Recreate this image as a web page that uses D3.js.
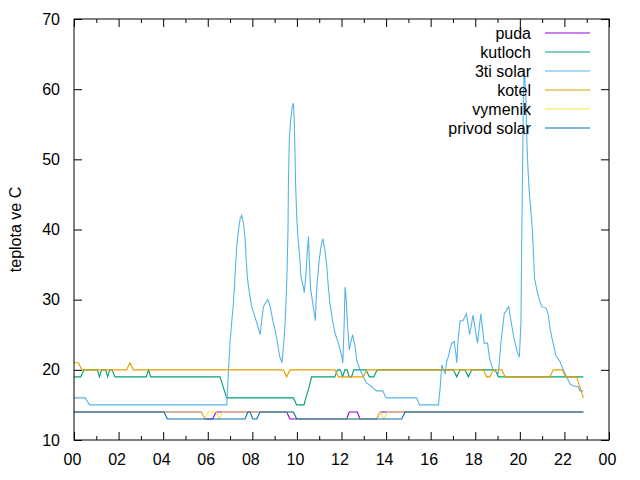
<!DOCTYPE html>
<html>
<head>
<meta charset="UTF-8">
<title>teplota</title>
<script src="https://d3js.org/d3.v7.min.js"></script>
<style>
body { margin: 0; background: #fff; }
svg { font-family: "Liberation Sans", Arial, sans-serif; font-size: 16px; }
</style>
</head>
<body>
<svg width="640" height="480"></svg>
<script>
// tick labels
var hourTicks = [0, 2, 4, 6, 8, 10, 12, 14, 16, 18, 20, 22, 24];
var hourLabels = ["00", "02", "04", "06", "08", "10", "12", "14", "16", "18", "20", "22", "00"];
var tempTicks = [10, 20, 30, 40, 50, 60, 70];

var seriesNames = ["puda", "kutloch", "3ti solar", "kotel", "vymenik", "privod solar"];

// puda
var pudaHours = [0, 5.72, 5.87, 6.22, 6.37, 9.54, 9.69, 12.23, 12.35, 12.71, 12.83, 13.58, 13.73, 22.85];
var pudaTemps = [14, 14, 13, 13, 14, 14, 13, 13, 14, 14, 13, 13, 14, 14];

// kutloch
var kutlochHours = [0, 0.3, 0.45, 1.05, 1.14, 1.24, 1.42, 1.51, 1.6, 1.7, 1.84, 3.24, 3.34, 3.44,
  6.55, 6.65, 6.75, 6.85, 9.84, 9.99, 10.32, 10.4, 10.5, 10.58, 10.66, 11.7, 11.82, 11.95, 12.05,
  12.15, 12.25, 12.35, 12.45, 12.55, 13.1, 13.25, 13.45, 13.6, 17.02, 17.17, 17.32, 17.54, 17.69,
  17.84, 18.89, 19.04, 22.85];
var kutlochTemps = [19, 19, 20, 20, 19, 20, 20, 19, 20, 20, 19, 19, 20, 19,
  19, 18, 17, 16, 16, 15, 15, 16, 17, 18, 19, 19, 20, 20, 19,
  20, 20, 19, 19, 20, 20, 19, 19, 20, 20, 19, 20, 20, 19,
  20, 20, 19, 19];

// 3ti solar
var solarHours = [0, 0.5, 0.7, 6.85, 7.0, 7.08, 7.15, 7.2, 7.25, 7.3, 7.38, 7.45, 7.52, 7.6, 7.68,
  7.72, 7.78, 7.87, 7.97, 8.12, 8.27, 8.35, 8.42, 8.5, 8.62, 8.7, 8.8, 8.92, 9.02, 9.12, 9.22, 9.33,
  9.39, 9.47, 9.55, 9.6, 9.62, 9.66, 9.72, 9.78, 9.84, 9.88, 9.91, 9.94, 9.99, 10.04, 10.1, 10.14,
  10.18, 10.29, 10.33, 10.41, 10.48, 10.52, 10.56, 10.62, 10.71, 10.78, 10.83, 10.86, 10.92, 11.0,
  11.08, 11.16, 11.26, 11.34, 11.41, 11.48, 11.6, 11.71, 11.86, 12.01, 12.06, 12.12, 12.16, 12.2,
  12.26, 12.35, 12.41, 12.5, 12.61, 12.68, 12.83, 12.98, 13.13, 13.28, 13.43, 13.58, 13.85, 14.0,
  15.37, 15.5, 16.35, 16.43, 16.5, 16.58, 16.65, 16.72, 16.8, 16.87, 16.95, 17.05, 17.12, 17.17,
  17.24, 17.32, 17.45, 17.6, 17.75, 17.9, 18.1, 18.25, 18.4, 18.55, 18.65, 18.8, 19.04, 19.15,
  19.3, 19.5, 19.6, 19.75, 19.9, 19.98, 20.05, 20.08, 20.12, 20.16, 20.2, 20.27, 20.31, 20.36,
  20.41, 20.49, 20.56, 20.6, 20.66, 20.79, 20.88, 20.98, 21.18, 21.28, 21.35, 21.43, 21.53, 21.62,
  21.8, 21.95, 22.1, 22.25, 22.4, 22.62, 22.7, 22.85];
var solarTemps = [16, 16, 15, 15, 24, 27, 29.5, 32, 35, 37.5, 40, 41.5, 42, 41, 38.5,
  36, 33, 31, 29, 27.5, 26, 25, 27, 29, 29.7, 30, 29, 27, 25.7, 24, 22, 21,
  23, 26.6, 33, 40, 47, 53, 55.6, 57.3, 58, 55.6, 51.3, 46.6, 42, 39, 37, 35.4,
  33.3, 31.8, 31, 33.8, 37.5, 39, 35.2, 31.4, 29.5, 28, 27, 30, 32.8, 35.7,
  37.5, 38.7, 37, 34.7, 31.8, 29.5, 27, 25.2, 23.8, 22, 21, 26.6, 31.8, 30.7,
  27, 22.8, 23.8, 25, 23.3, 21.4, 20, 19, 18.1, 17.8, 17.4, 17, 17, 16,
  16, 15, 15, 17.6, 20.7, 20, 19.5, 21.2, 22, 23, 23.8, 24, 22.6, 21,
  24.7, 27, 27, 28, 25, 27.8, 23.8, 28, 23.8, 23.8, 21.5, 20, 19.5, 23.8,
  28, 29, 27, 24.3, 22.4, 21.9, 26.6, 37, 47.5, 59, 63, 59, 53, 49,
  46, 42.8, 40, 37.5, 33, 31, 30, 29, 28.8, 27.8, 26, 24.7, 23.3, 22,
  21.2, 20, 19, 18, 17.7, 17.6, 17, 17];

// kotel
var kotelHours = [0, 0.2, 0.35, 2.36, 2.51, 2.66, 9.39, 9.54, 9.69, 11.71, 11.86, 12.98, 13.13,
  18.36, 18.51, 18.66, 18.81, 19.19, 19.34, 21.35, 21.5, 21.9, 22.05, 22.55, 22.65, 22.75, 22.85];
var kotelTemps = [21, 21, 20, 20, 21, 20, 20, 19, 20, 20, 19, 19, 20,
  20, 19, 19, 20, 20, 19, 19, 20, 20, 19, 19, 18, 17, 16];

// vymenik
var vymenikHours = [0, 5.72, 5.87, 6.02, 6.37, 6.52, 6.67, 9.85, 10.0, 13.6, 13.73, 13.9, 14.08, 22.85];
var vymenikTemps = [14, 14, 13, 14, 14, 13, 14, 14, 13, 13, 14, 13, 14, 14];

// privod solar
var privodHours = [0, 4.04, 4.19, 7.67, 7.8, 7.9, 8.02, 8.2, 8.34, 9.84, 9.99, 14.7, 14.85, 22.85];
var privodTemps = [14, 14, 13, 13, 14, 14, 13, 13, 14, 14, 13, 13, 14, 14];

var colors = ["#9400d3", "#009e73", "#56b4e9", "#e69f00", "#f0e442", "#0072b2"];

var allHours = [pudaHours, kutlochHours, solarHours, kotelHours, vymenikHours, privodHours];
var allTemps = [pudaTemps, kutlochTemps, solarTemps, kotelTemps, vymenikTemps, privodTemps];

// plot frame
var margin = {top: 19, right: 31, bottom: 40, left: 74},
    width = 640 - margin.left - margin.right,
    height = 480 - margin.top - margin.bottom;

var x = d3.scaleLinear().domain([0, 24]).range([0, width]);
var y = d3.scaleLinear().domain([10, 70]).range([height, 0]);

var svg = d3.select("svg")
  .append("g")
    .attr("transform", "translate(" + margin.left + "," + margin.top + ")");

// minor ticks (every hour), bottom and top
var minorHours = d3.range(1, 24, 2);
svg.append("g")
    .attr("transform", "translate(0," + height + ")")
    .call(d3.axisBottom(x).tickValues(minorHours).tickSize(-4).tickFormat(""))
    .call(function(g) { g.select(".domain").remove(); });
svg.append("g")
    .call(d3.axisTop(x).tickValues(minorHours).tickSize(-4).tickFormat(""))
    .call(function(g) { g.select(".domain").remove(); });

// major x ticks
svg.append("g")
    .attr("transform", "translate(0," + height + ")")
    .call(d3.axisBottom(x).tickValues(hourTicks).tickSize(-8).tickPadding(13.5)
      .tickFormat(function(d, i) { return hourLabels[i]; }))
    .call(function(g) {
      g.select(".domain").remove();
      g.selectAll("text").attr("font-size", 16).attr("font-family", null).attr("dx", -2);
    });
svg.append("g")
    .call(d3.axisTop(x).tickValues(hourTicks).tickSize(-8).tickFormat(""))
    .call(function(g) { g.select(".domain").remove(); });

// y ticks
svg.append("g")
    .call(d3.axisLeft(y).tickValues(tempTicks).tickSize(-8).tickPadding(14))
    .call(function(g) {
      g.select(".domain").remove();
      g.selectAll("text").attr("font-size", 16).attr("font-family", null);
    });
svg.append("g")
    .attr("transform", "translate(" + width + ",0)")
    .call(d3.axisRight(y).tickValues(tempTicks).tickSize(-8).tickFormat(""))
    .call(function(g) { g.select(".domain").remove(); });

// the lines
var line = d3.line()
    .x(function(d) { return x(d[0]); })
    .y(function(d) { return y(d[1]); });

seriesNames.forEach(function(name, i) {
  var pts = allHours[i].map(function(h, j) { return [h, allTemps[i][j]]; });
  svg.append("path")
      .datum(pts)
      .attr("fill", "none")
      .attr("stroke", colors[i])
      .attr("stroke-width", 1.1)
      .attr("d", line);
});

// frame
svg.append("rect")
    .attr("width", width)
    .attr("height", height)
    .attr("fill", "none")
    .attr("stroke", "#000")
    .attr("stroke-width", 1);

// y label
svg.append("text")
    .attr("transform", "rotate(-90)")
    .attr("x", -height / 2)
    .attr("y", -53)
    .attr("text-anchor", "middle")
    .text("teplota ve C");

// legend
var legend = svg.append("g")
    .attr("transform", "translate(" + (width - 78) + ",14)");
seriesNames.forEach(function(name, i) {
  var row = legend.append("g").attr("transform", "translate(0," + (i * 19) + ")");
  row.append("text")
      .attr("x", 0)
      .attr("dy", "0.35em")
      .attr("text-anchor", "end")
      .text(name);
  row.append("line")
      .attr("x1", 14).attr("x2", 59)
      .attr("stroke", colors[i])
      .attr("stroke-width", 1.1);
});
</script>
</body>
</html>
